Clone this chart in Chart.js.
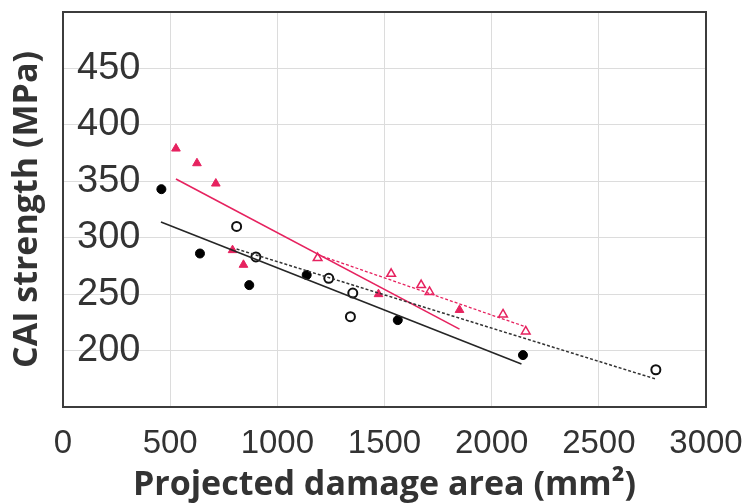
<!DOCTYPE html>
<html>
<head>
<meta charset="utf-8">
<script src="https://cdn.jsdelivr.net/npm/chart.js@4.4.1/dist/chart.umd.min.js"></script>
<style>
  html, body { margin: 0; padding: 0; background: #ffffff; }
  #wrap { width: 752px; height: 504px; }
</style>
</head>
<body>
<div id="wrap"><canvas id="caiChart" width="752" height="504"></canvas></div>
<script>
// Values: damage area (mm2) vs CAI strength (MPa)

// Black filled circles
const blackFilledX = [459, 639, 869, 1137, 1562, 2146];
const blackFilledY = [343, 286, 258, 267, 227, 196];

// Black open circles
const blackOpenX = [810, 900, 1240, 1352, 1341, 2766];
const blackOpenY = [310, 283, 264, 251, 230, 183];

// Red filled triangles
const redFilledX = [527, 625, 713, 791, 842, 1472, 1850];
const redFilledY = [379, 366, 348, 289, 276, 250, 236];

// Red open triangles
const redOpenX = [1188, 1531, 1671, 1710, 2053, 2159];
const redOpenY = [282, 268, 258, 252, 232, 217];

// Trend lines, end points only
const blackFitX = [457, 2139];
const blackFitY = [314, 188];
const blackDashX = [810, 2762];
const blackDashY = [290, 175];
const redFitX = [527, 1850];
const redFitY = [352, 219];
const redDashX = [1188, 2159];
const redDashY = [285, 221];

// Axis ticks
const xTicks = [0, 500, 1000, 1500, 2000, 2500, 3000];
const yTicks = [200, 250, 300, 350, 400, 450];

const RED = '#e6225f';
const DARK = '#262626';

// Turn two arrays into {x, y} points
function ToPoints(xs, ys) {
    return xs.map((x, i) => ({ x: x, y: ys[i] }));
}

// Frame round the plot area
const framePlugin = {
    id: 'frame',
    afterDraw(chart) {
        const a = chart.chartArea;
        const ctx = chart.ctx;
        ctx.save();
        ctx.strokeStyle = '#3c3c3c';
        ctx.lineWidth = 2;
        ctx.strokeRect(a.left, a.top, a.right - a.left, a.bottom - a.top);
        ctx.restore();
    }
};

const ctx = document.getElementById("caiChart").getContext("2d");

new Chart(ctx, {
    type: 'scatter',
    data: {
        datasets: [
            {
                label: 'Black fit',
                data: ToPoints(blackFitX, blackFitY),
                showLine: true,
                borderColor: DARK,
                borderWidth: 1.6,
                pointRadius: 0
            },
            {
                label: 'Black dashed fit',
                data: ToPoints(blackDashX, blackDashY),
                showLine: true,
                borderColor: '#333333',
                borderWidth: 1.5,
                borderDash: [3, 2],
                pointRadius: 0
            },
            {
                label: 'Red fit',
                data: ToPoints(redFitX, redFitY),
                showLine: true,
                borderColor: RED,
                borderWidth: 1.6,
                pointRadius: 0
            },
            {
                label: 'Red dashed fit',
                data: ToPoints(redDashX, redDashY),
                showLine: true,
                borderColor: RED,
                borderWidth: 1.3,
                borderDash: [3, 2],
                pointRadius: 0
            },
            {
                label: 'Black filled',
                data: ToPoints(blackFilledX, blackFilledY),
                pointStyle: 'circle',
                pointRadius: 4.5,
                backgroundColor: '#000000',
                borderColor: '#000000',
                borderWidth: 1
            },
            {
                label: 'Black open',
                data: ToPoints(blackOpenX, blackOpenY),
                pointStyle: 'circle',
                pointRadius: 4.5,
                backgroundColor: '#ffffff',
                borderColor: '#111111',
                borderWidth: 2
            },
            {
                label: 'Red filled',
                data: ToPoints(redFilledX, redFilledY),
                pointStyle: 'triangle',
                pointRadius: 5,
                backgroundColor: RED,
                borderColor: RED,
                borderWidth: 1
            },
            {
                label: 'Red open',
                data: ToPoints(redOpenX, redOpenY),
                pointStyle: 'triangle',
                pointRadius: 5,
                backgroundColor: '#ffffff',
                borderColor: RED,
                borderWidth: 1.5
            }
        ]
    },
    options: {
        responsive: false,
        animation: false,
        layout: {
            padding: { left: 6, right: 46, top: 12, bottom: 2 }
        },
        plugins: {
            legend: { display: false },
            tooltip: { enabled: false }
        },
        scales: {
            x: {
                type: 'linear',
                min: 0,
                max: 3000,
                afterBuildTicks: (axis) => { axis.ticks = xTicks.map(v => ({ value: v })); },
                // Fixed height, no overflow padding
                afterFit: (axis) => {
                    axis.height = 95;
                    axis.paddingLeft = 0;
                    axis.paddingRight = 0;
                },
                grid: {
                    color: '#dcdcdc',
                    drawTicks: false
                },
                border: { display: false },
                ticks: {
                    color: '#333333',
                    padding: 37,
                    maxRotation: 0,
                    autoSkip: false,
                    callback: (v) => String(v),
                    font: { family: 'Liberation Sans', size: 33, lineHeight: 0.01 }
                },
                title: {
                    display: true,
                    text: 'Projected damage area (mm²)',
                    color: '#333333',
                    padding: { top: 0, bottom: 0 },
                    font: { family: 'Open Sans', size: 34, weight: 'bold', lineHeight: 1.0 }
                }
            },
            y: {
                type: 'linear',
                min: 150,
                max: 500,
                afterBuildTicks: (axis) => { axis.ticks = yTicks.map(v => ({ value: v })); },
                afterFit: (axis) => {
                    axis.width = 57;
                    axis.paddingTop = 0;
                    axis.paddingBottom = 0;
                },
                grid: {
                    color: '#dcdcdc',
                    drawTicks: false
                },
                border: { display: false },
                ticks: {
                    mirror: true,
                    crossAlign: 'near',
                    padding: 14,
                    color: '#333333',
                    font: { family: 'Liberation Sans', size: 38 }
                },
                title: {
                    display: true,
                    text: 'CAI strength (MPa)',
                    color: '#333333',
                    padding: { top: 4, bottom: 0 },
                    font: { family: 'Open Sans', size: 34, weight: 'bold', lineHeight: 1.0 }
                }
            }
        }
    },
    plugins: [framePlugin]
});
</script>
</body>
</html>
